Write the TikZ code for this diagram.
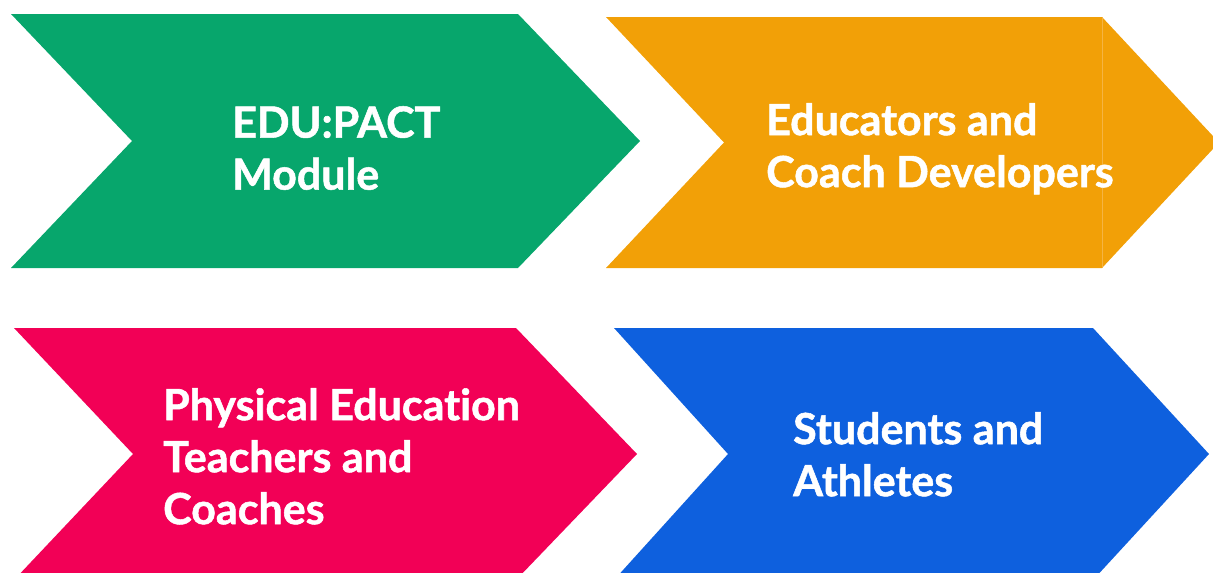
\documentclass[tikz,border=0pt]{standalone}
\usepackage{fontspec}
\newfontfamily\lblfont{Lato}[Ligatures=NoCommon,BoldFeatures={FakeBold=1.2}]
\definecolor{cgreen}{HTML}{07A66C}
\definecolor{corange}{HTML}{F2A007}
\definecolor{cpink}{HTML}{F20056}
\definecolor{cblue}{HTML}{0E60DE}
\definecolor{cseam}{HTML}{F5B443}
\begin{document}
\begin{tikzpicture}[x=1pt,y=-1pt,
  lbl/.style={anchor=north west,inner sep=0pt,align=left,text=white,
    font=\lblfont\bfseries\fontsize{43}{52}\selectfont}]
\useasboundingbox (0,0) rectangle (1213,573);
\clip (0,0) rectangle (1213,573);
\fill[cgreen] (11,14) -- (518,14) -- (640,141) -- (518,268) -- (11,268) -- (132,141) -- cycle;
\fill[corange] (606,17) -- (1102,17) -- (1219,142.5) -- (1102,268) -- (606,268) -- (724,142.5) -- cycle;
\draw[cseam,line width=0.6pt] (1102,17) -- (1102,268);
\fill[cpink] (14,328) -- (516,328) -- (637,454) -- (516,580) -- (14,580) -- (133,454) -- cycle;
\fill[cblue] (614,328) -- (1093,328) -- (1209,454) -- (1093,580) -- (614,580) -- (728,454) -- cycle;
\node[lbl] (t1) at (232,106) {EDU:PACT\\Module};
\node[lbl] (t2) at (766,103) {Educators and\\Coach Developers};
\node[lbl] (t3) at (163,388) {Physical Education\\Teachers and\\Coaches};
\node[lbl] (t4) at (793,412) {Students and\\Athletes};
\end{tikzpicture}
\end{document}
